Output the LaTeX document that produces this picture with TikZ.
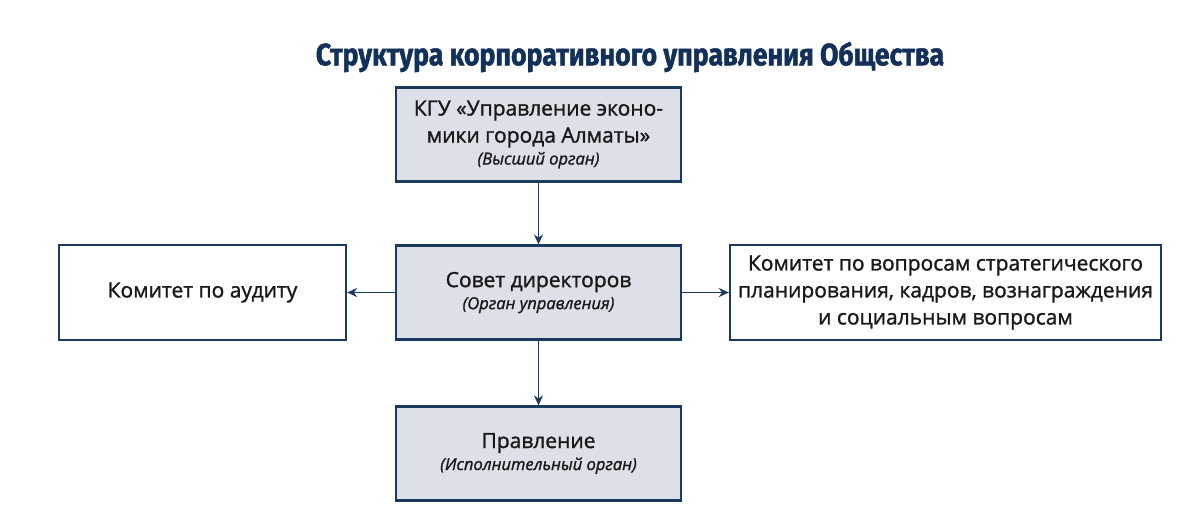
\documentclass[tikz,border=0pt]{standalone}
\usepackage{fontspec}
\setmainfont[FakeBold=1.3]{Open Sans}
\newfontfamily\titlefont[FakeStretch=0.86, FakeBold=1.5]{Fira Sans}
\usetikzlibrary{arrows.meta}
\definecolor{navy}{HTML}{1B3A5E}
\definecolor{boxfill}{HTML}{DCE0E9}
\definecolor{titleblue}{HTML}{12305A}
\newcommand{\organnote}[1]{\\[-5pt]{\fontsize{16.5}{19}\selectfont\itshape #1}}

\begin{document}
\begin{tikzpicture}[x=1pt, y=-1pt, every node/.style={draw=navy, line width=2.2pt, align=center, inner sep=0pt, text=black!90, font=\fontsize{21}{27}\selectfont}, organ/.style={fill=boxfill, minimum width=285pt, minimum height=94pt}, committee/.style={fill=white, minimum height=95pt}, link/.style={draw=navy, line width=1.6pt, -{Stealth[length=10pt, width=9pt]}}]
			\useasboundingbox (0,0) rectangle (1200,523);
			\node[draw=none, text=titleblue, font=\titlefont\bfseries\fontsize{31}{36}\selectfont] (title) at (630,57){Структура корпоративного управления Общества};
			\node[organ] (kgu) at (538.5,134.5){КГУ «Управление эконо-\\мики города Алматы»\organnote{(Высший орган)}};
			\node[organ] (sovet) at (538.5,292.5){Совет директоров\organnote{(Орган управления)}};
			\node[committee, minimum width=287pt] (audit) at (202.5,292.5){Комитет по аудиту};
			\node[committee, minimum width=431pt] (strategy) at (945.5,292.5){Комитет по вопросам стратегического\\планирования, кадров, вознаграждения\\и социальным вопросам};
			\node[organ] (pravlenie) at (538.5,453.5){Правление\organnote{(Исполнительный орган)}};
			
			\path (kgu) edge[link] (sovet);
			\path (sovet) edge[link] (audit);
			\path (sovet) edge[link] (strategy);
			\path (sovet) edge[link] (pravlenie);
			\end{tikzpicture}
\end{document}
